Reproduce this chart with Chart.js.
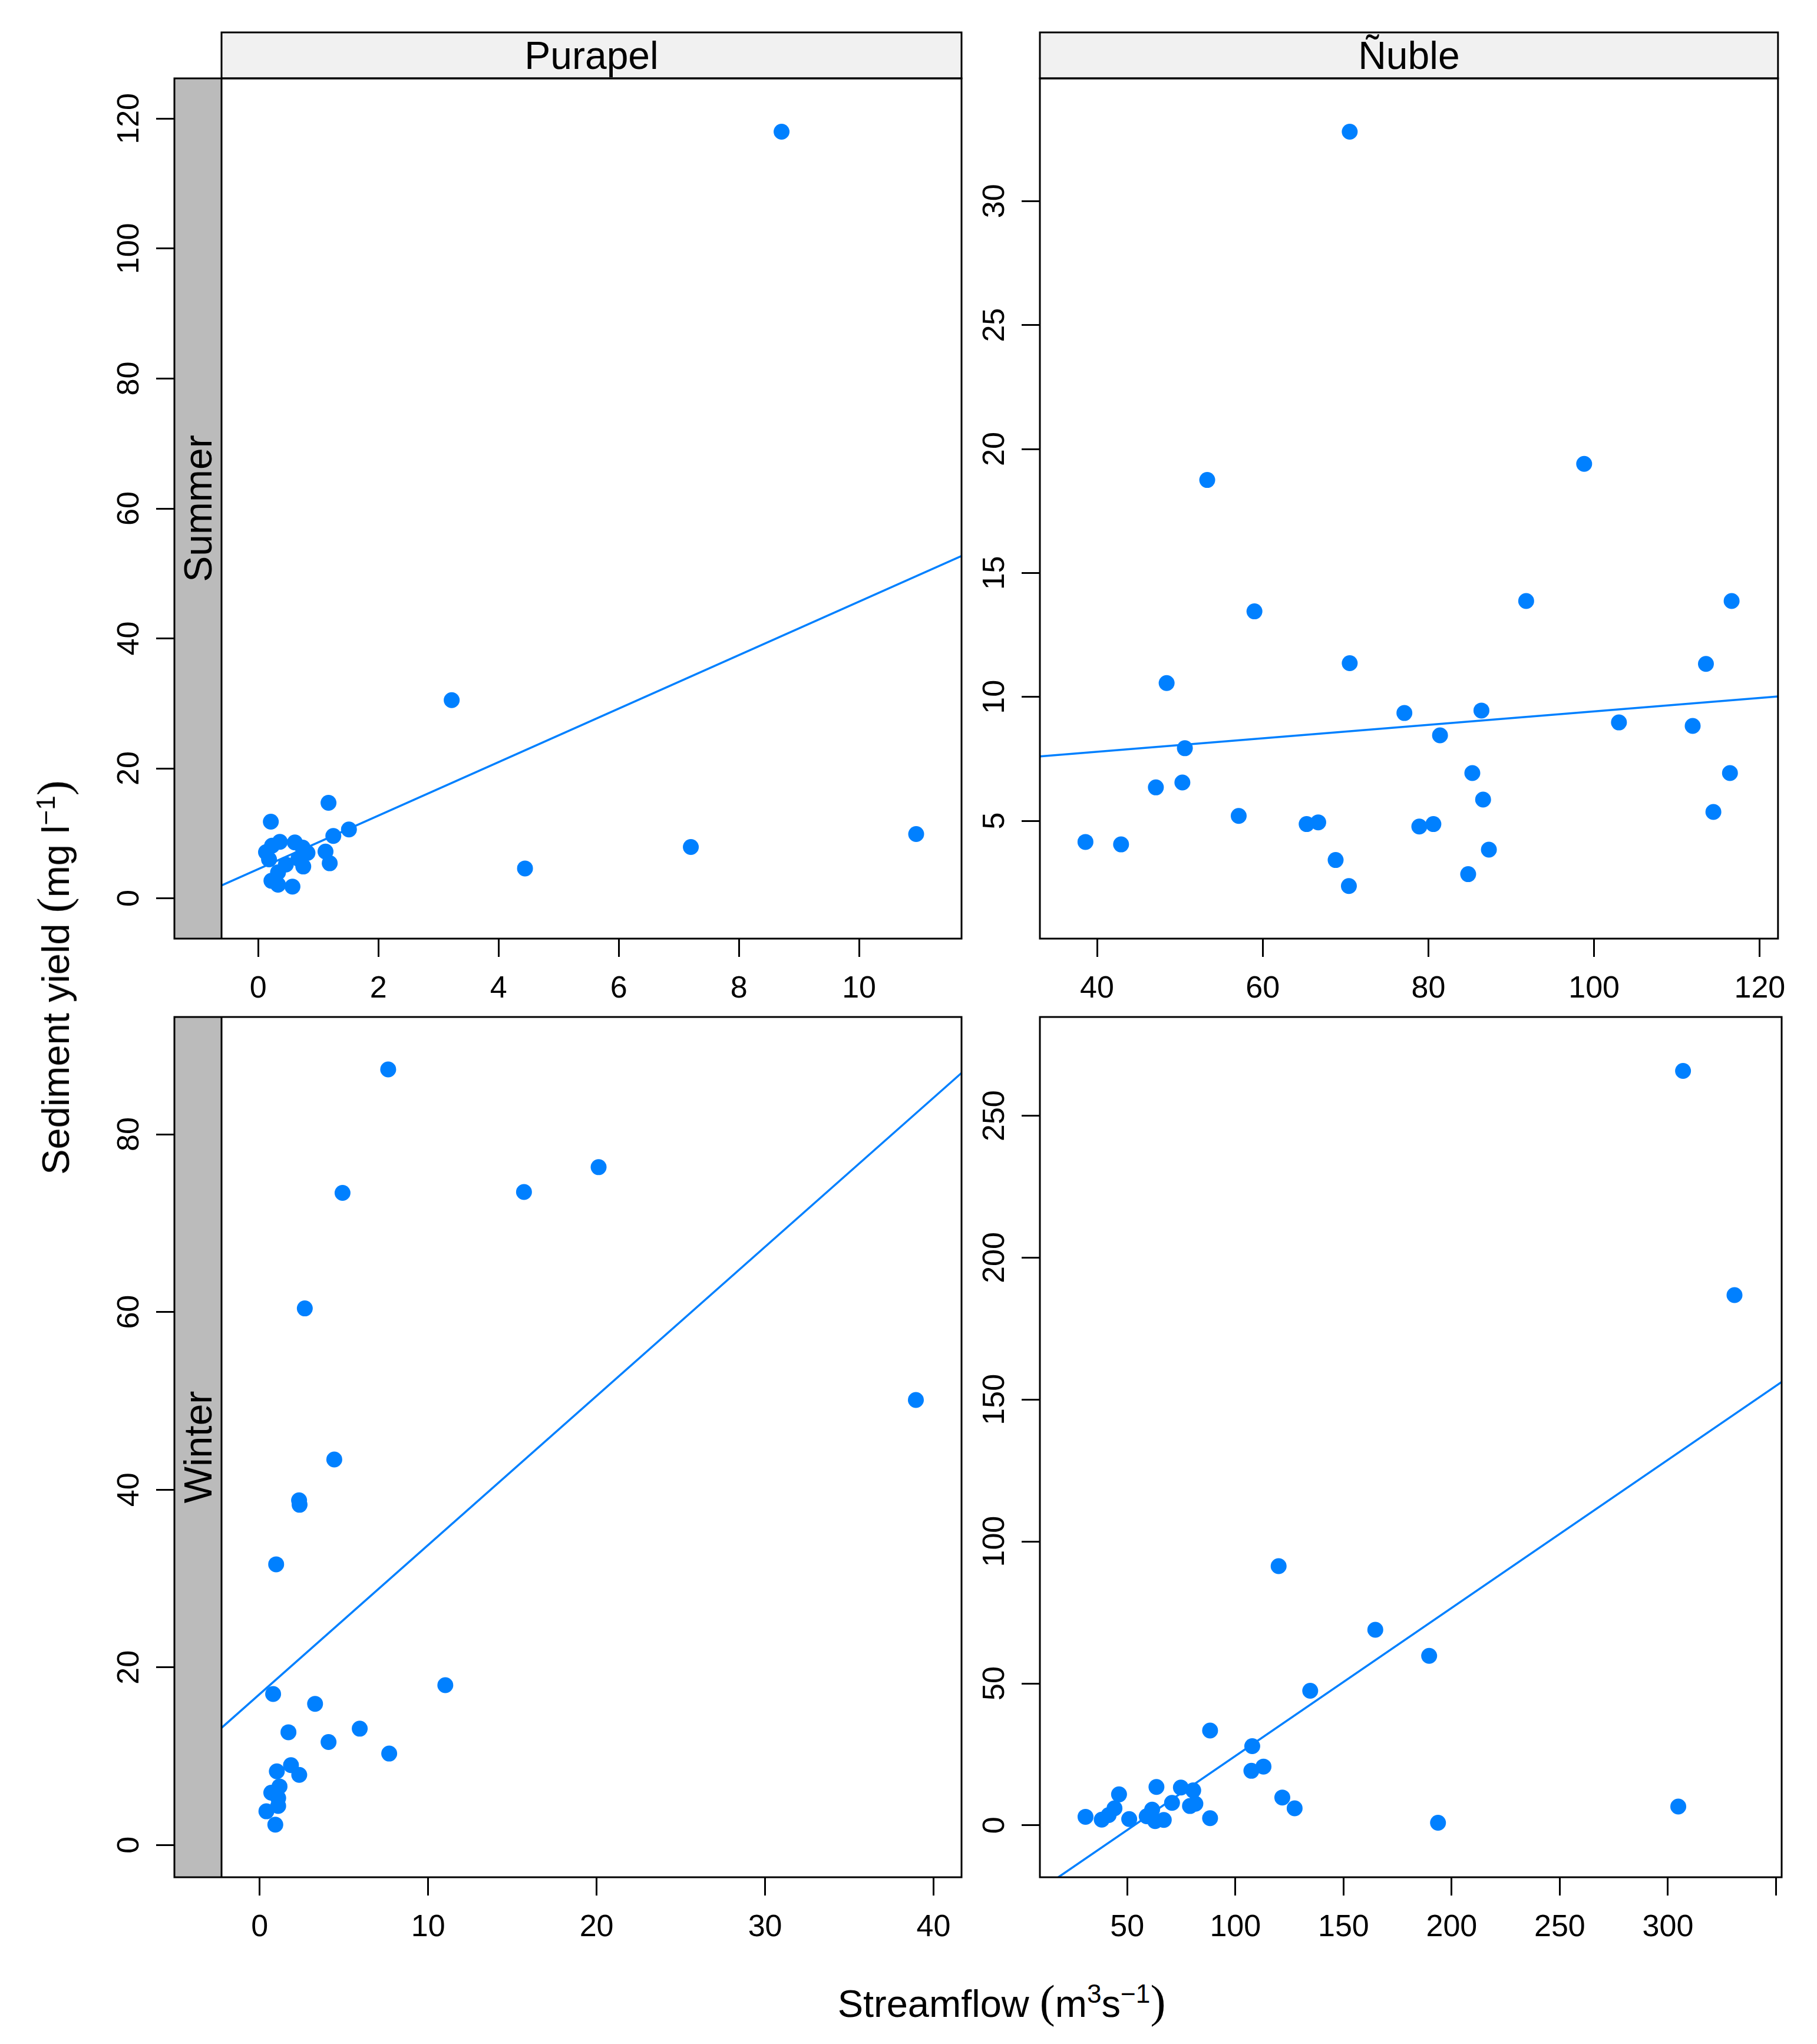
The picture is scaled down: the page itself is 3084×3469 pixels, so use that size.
<!DOCTYPE html>
<html>
<head>
<meta charset="utf-8">
<script src="https://cdn.jsdelivr.net/npm/chart.js@4.4.1/dist/chart.umd.min.js"></script>
<style>
  html, body { margin: 0; padding: 0; background: #fff; }
  body { width: 3084px; height: 3469px; position: relative; overflow: hidden;
         font-family: 'Liberation Sans', Arial, sans-serif; }
  canvas { position: absolute; }
  .title { position: absolute; font-size: 65px; line-height: 1; white-space: nowrap; color: #000; }
  .paren { font-family: 'Liberation Serif', serif; font-size: 1.2em; }
  sup { font-size: 0.68em; vertical-align: 0.55em; line-height: 0; }
</style>
</head>
<body>
<canvas id="c1" width="1562" height="1683" style="left:100px;top:40px"></canvas>
<canvas id="c2" width="1485" height="1683" style="left:1569px;top:40px"></canvas>
<canvas id="c3" width="1562" height="1616" style="left:100px;top:1700px"></canvas>
<canvas id="c4" width="1485" height="1616" style="left:1569px;top:1700px"></canvas>

<div class="title" style="left:91px;top:1659px;transform:translate(-50%,-50%) rotate(-90deg)">Sediment yield <span class="paren">(</span>mg l<sup>−1</sup><span class="paren">)</span></div>
<div class="title" style="left:1700px;top:3397px;transform:translate(-50%,-50%)">Streamflow <span class="paren">(</span>m<sup>3</sup>s<sup>−1</sup><span class="paren">)</span></div>

<script>
// ---- data (streamflow m3/s, sediment mg/l) ----
const purapelSummerQ   = [8.71, 3.22, 4.44, 7.20, 10.95, 1.17, 0.21, 1.51, 1.25, 1.12, 1.19, 0.13, 0.18, 0.36, 0.23, 0.61, 0.74, 0.82, 0.67, 0.75, 0.46, 0.33, 0.22, 0.33, 0.57];
const purapelSummerSed = [118.0, 30.5, 4.6, 7.9, 9.9, 14.7, 11.8, 10.6, 9.6, 7.2, 5.4, 7.1, 6.0, 8.7, 8.1, 8.6, 7.8, 7.0, 6.1, 4.9, 5.2, 4.0, 2.7, 2.1, 1.8];

const nubleSummerQ   = [70.5, 53.3, 98.8, 59.0, 91.8, 116.6, 48.4, 70.5, 113.5, 77.1, 86.4, 50.6, 81.4, 103.0, 111.9, 47.1, 50.3, 85.3, 116.4, 57.1, 86.6, 114.4, 38.6, 42.9, 65.3, 66.7, 78.9, 80.6, 68.8, 70.4, 84.8, 87.3];
const nubleSummerSed = [32.8, 18.75, 19.4, 13.45, 13.87, 13.87, 10.56, 11.36, 11.33, 9.35, 9.45, 7.93, 8.45, 8.97, 8.83, 6.35, 6.55, 6.93, 6.93, 5.2, 5.86, 5.36, 4.15, 4.05, 4.87, 4.94, 4.77, 4.87, 3.42, 2.37, 2.85, 3.84];

const purapelWinterQ   = [7.63, 4.92, 15.69, 20.12, 2.68, 38.95, 4.43, 2.34, 2.37, 0.98, 0.80, 11.02, 3.29, 1.71, 5.94, 4.09, 7.69, 1.02, 1.86, 2.35, 1.18, 0.69, 1.10, 1.10, 0.40, 0.93];
const purapelWinterSed = [87.3, 73.4, 73.5, 76.3, 60.4, 50.1, 43.4, 38.8, 38.3, 31.6, 17.0, 18.0, 15.9, 12.7, 13.1, 11.6, 10.3, 8.3, 9.0, 7.9, 6.6, 5.9, 5.3, 4.4, 3.8, 2.3];

const nubleWinterQ   = [307.0, 330.8, 120.0, 164.7, 189.6, 134.6, 88.3, 107.8, 107.4, 113.0, 121.7, 127.4, 304.8, 193.7, 88.3, 63.5, 74.8, 80.5, 79.0, 81.5, 70.7, 61.5, 59.0, 62.9, 66.9, 50.9, 46.2, 44.1, 41.4, 38.2, 30.7];
const nubleWinterSed = [265.8, 186.8, 91.3, 68.9, 59.7, 47.4, 33.4, 27.9, 19.2, 20.7, 9.8, 6.0, 6.6, 0.9, 2.5, 13.5, 13.3, 12.3, 6.8, 7.6, 7.9, 5.5, 3.2, 1.5, 1.9, 2.2, 10.9, 6.0, 3.6, 2.0, 3.0];

// fitted lines, end points as drawn at the panel edges
const purapelSummerFitQ = [-0.608, 11.705], purapelSummerFitSed = [2.0, 52.7];
const nubleSummerFitQ   = [33.1, 122.2],    nubleSummerFitSed   = [7.6, 10.02];
const purapelWinterFitQ = [-2.26, 41.66],   purapelWinterFitSed = [13.2, 86.9];
const nubleWinterFitQ   = [18.1, 352.6],    nubleWinterFitSed   = [-18.3, 156.2];

// tick values and labels
const purapelSummerXTicks = [0, 2, 4, 6, 8, 10];
const purapelSummerYTicks = [0, 20, 40, 60, 80, 100, 120];
const nubleSummerXTicks   = [40, 60, 80, 100, 120];
const nubleSummerYTicks   = [5, 10, 15, 20, 25, 30];
const purapelWinterXTicks = [0, 10, 20, 30, 40];
const purapelWinterYTicks = [0, 20, 40, 60, 80];
const nubleWinterXTicks   = [50, 100, 150, 200, 250, 300, 350];
const nubleWinterXLabels  = ['50', '100', '150', '200', '250', '300', ''];
const nubleWinterYTicks   = [0, 50, 100, 150, 200, 250];

const BLUE = '#0080ff';
const STRIP_W = 80;   // grey season strip
const STRIP_H = 78;   // site strip on top
const TICK_FONT = 52;

Chart.defaults.font.family = "'Liberation Sans', Arial, sans-serif";
Chart.defaults.color = '#000';

// strips, panel box and rotated y tick labels (lattice look)
const facetPlugin = {
  id: 'facet',
  afterDraw(chart, args, o) {
    const ctx = chart.ctx;
    const a = chart.chartArea;
    const ys = chart.scales.y;
    const plotLeft = o.rowLabel ? a.left + STRIP_W : a.left;
    ctx.save();
    ctx.lineWidth = 3;
    ctx.strokeStyle = '#000';

    if (o.rowLabel) {
      ctx.fillStyle = '#bbbbbb';
      ctx.fillRect(a.left, a.top, STRIP_W, a.bottom - a.top);
      ctx.beginPath();
      ctx.moveTo(plotLeft, a.top);
      ctx.lineTo(plotLeft, a.bottom);
      ctx.stroke();
      ctx.save();
      ctx.fillStyle = '#000';
      ctx.font = "66px 'Liberation Sans'";
      ctx.textAlign = 'center';
      ctx.textBaseline = 'alphabetic';
      ctx.translate(a.left + STRIP_W / 2 + 23, (a.top + a.bottom) / 2);
      ctx.rotate(-Math.PI / 2);
      ctx.fillText(o.rowLabel, 0, 0);
      ctx.restore();
    }

    if (o.colLabel) {
      ctx.fillStyle = '#f1f1f1';
      ctx.fillRect(plotLeft, a.top - STRIP_H, a.right - plotLeft, STRIP_H);
      ctx.strokeRect(plotLeft, a.top - STRIP_H, a.right - plotLeft, STRIP_H);
      ctx.fillStyle = '#000';
      ctx.font = "66px 'Liberation Sans'";
      ctx.textAlign = 'center';
      ctx.textBaseline = 'alphabetic';
      ctx.fillText(o.colLabel, (plotLeft + a.right) / 2, a.top - STRIP_H / 2 + 23);
    }

    ctx.strokeRect(a.left, a.top, a.right - a.left, a.bottom - a.top);

    // y tick labels, reading bottom to top
    ctx.fillStyle = '#000';
    ctx.font = TICK_FONT + "px 'Liberation Sans'";
    ctx.textAlign = 'center';
    ctx.textBaseline = 'alphabetic';
    ys.ticks.forEach((t, i) => {
      const y = ys.getPixelForValue(t.value);
      ctx.save();
      ctx.translate(a.left - 61, y);
      ctx.rotate(-Math.PI / 2);
      ctx.fillText(o.yLabels[i], 0, 0);
      ctx.restore();
    });
    ctx.restore();
  }
};

function toPoints(xs, ys) {
  return xs.map((x, i) => ({ x: x, y: ys[i] }));
}

function makePanel(id, p) {
  const ctx = document.getElementById(id).getContext('2d');
  return new Chart(ctx, {
    type: 'scatter',
    data: {
      datasets: [{
        data: toPoints(p.q, p.sed),
        pointRadius: 13.5,
        pointBackgroundColor: BLUE,
        pointBorderWidth: 0,
        order: 2
      }, {
        data: toPoints(p.fitQ, p.fitSed),
        showLine: true,
        pointRadius: 0,
        borderColor: BLUE,
        borderWidth: 3.5,
        order: 1
      }]
    },
    options: {
      responsive: false,
      animation: false,
      devicePixelRatio: 1,
      events: [],
      layout: { padding: { top: p.padTop, right: 30, left: 0, bottom: 0 } },
      plugins: {
        legend: { display: false },
        tooltip: { enabled: false },
        facet: { rowLabel: p.rowLabel, colLabel: p.colLabel, yLabels: p.yTicks.map(String) }
      },
      scales: {
        x: {
          type: 'linear',
          position: 'bottom',
          min: p.xMin,
          max: p.xMax,
          afterBuildTicks: (s) => { s.ticks = p.xTicks.map(v => ({ value: v })); },
          afterFit: (s) => { s.height = 130; },
          border: { display: false },
          grid: { display: true, drawOnChartArea: false, drawTicks: true,
                  tickLength: 31, tickWidth: 3, tickColor: '#000' },
          ticks: {
            autoSkip: false,
            maxRotation: 0,
            minRotation: 0,
            padding: 23,
            font: { size: TICK_FONT },
            color: '#000',
            callback: (v, i) => (p.xLabels ? p.xLabels[i] : String(p.xTicks[i]))
          }
        },
        y: {
          type: 'linear',
          position: 'left',
          min: p.yMin,
          max: p.yMax,
          afterBuildTicks: (s) => { s.ticks = p.yTicks.map(v => ({ value: v })); },
          afterFit: (s) => { s.width = 196; },
          border: { display: false },
          grid: { display: true, drawOnChartArea: false, drawTicks: true,
                  tickLength: 31, tickWidth: 3, tickColor: '#000' },
          ticks: { display: false }
        }
      }
    },
    plugins: [facetPlugin]
  });
}

document.addEventListener('DOMContentLoaded', function () {
  makePanel('c1', {
    q: purapelSummerQ, sed: purapelSummerSed,
    fitQ: purapelSummerFitQ, fitSed: purapelSummerFitSed,
    xMin: -1.395, xMax: 11.705, yMin: -6.2, yMax: 126.2,
    xTicks: purapelSummerXTicks, yTicks: purapelSummerYTicks,
    rowLabel: 'Summer', colLabel: 'Purapel', padTop: 93
  });
  makePanel('c2', {
    q: nubleSummerQ, sed: nubleSummerSed,
    fitQ: nubleSummerFitQ, fitSed: nubleSummerFitSed,
    xMin: 33.1, xMax: 122.2, yMin: 0.25, yMax: 34.95,
    xTicks: nubleSummerXTicks, yTicks: nubleSummerYTicks,
    rowLabel: null, colLabel: 'Ñuble', padTop: 93
  });
  makePanel('c3', {
    q: purapelWinterQ, sed: purapelWinterSed,
    fitQ: purapelWinterFitQ, fitSed: purapelWinterFitSed,
    xMin: -5.06, xMax: 41.66, yMin: -3.62, yMax: 93.2,
    xTicks: purapelWinterXTicks, yTicks: purapelWinterYTicks,
    rowLabel: 'Winter', colLabel: null, padTop: 26
  });
  makePanel('c4', {
    q: nubleWinterQ, sed: nubleWinterSed,
    fitQ: nubleWinterFitQ, fitSed: nubleWinterFitSed,
    xMin: 9.6, xMax: 352.6, yMin: -18.3, yMax: 284.8,
    xTicks: nubleWinterXTicks, xLabels: nubleWinterXLabels, yTicks: nubleWinterYTicks,
    rowLabel: null, colLabel: null, padTop: 26
  });
});
</script>
</body>
</html>
